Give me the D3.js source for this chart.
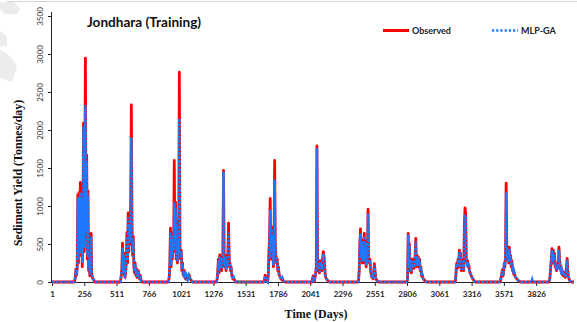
<!DOCTYPE html>
<html>
<head>
<meta charset="utf-8">
<script src="https://cdn.jsdelivr.net/npm/d3@7"></script>
<style>
  html, body { margin: 0; padding: 0; background: #fff; }
  svg { display: block; }
</style>
</head>
<body>
<svg id="chart" width="577" height="322"></svg>
<script>
// ---- data ----
const totalDays = 4125;
const xTickLabels = [1, 256, 511, 766, 1021, 1276, 1531, 1786, 2041, 2296, 2551, 2806, 3061, 3316, 3571, 3826];
const yTickValues = [0, 500, 1000, 1500, 2000, 2500, 3000, 3500];
const seriesNames = ["Observed", "MLP-GA"];

// first day of each monsoon block; values inside a block are every 5 days
const stepDays = 5;
const seasonStart = [175, 538, 917, 1296, 1675, 2054, 2418, 2805, 3184, 3539, 3790, 3926];

const observed = [
  [0, 10, 60, 170, 90, 180, 1150, 250, 1180, 700, 1310, 350, 1200, 200, 600, 2090, 400, 1500, 2945, 600, 1670, 300, 1200, 150, 300, 80, 120, 640, 90, 60, 40, 30, 15, 0],
  [0, 20, 80, 180, 510, 120, 380, 90, 60, 120, 300, 650, 250, 910, 400, 800, 500, 1100, 2330, 720, 350, 600, 200, 120, 250, 90, 180, 60, 100, 150, 70, 40, 90, 30, 10, 0],
  [0, 20, 60, 250, 710, 200, 650, 300, 550, 400, 1600, 500, 1050, 300, 800, 250, 600, 350, 2760, 460, 300, 420, 150, 250, 100, 80, 150, 60, 40, 90, 50, 30, 60, 100, 80, 40, 30, 20, 10, 0],
  [0, 10, 40, 150, 300, 120, 355, 200, 330, 150, 250, 400, 1470, 300, 200, 350, 150, 280, 200, 400, 775, 300, 250, 150, 200, 90, 60, 40, 60, 30, 20, 10, 0],
  [0, 30, 90, 60, 20, 10, 0, 100, 400, 600, 1100, 300, 725, 400, 650, 200, 450, 1600, 500, 350, 250, 300, 150, 200, 100, 80, 60, 40, 30, 50, 20, 15, 10, 5, 0],
  [0, 40, 80, 30, 10, 60, 120, 200, 1790, 300, 150, 250, 120, 280, 200, 250, 150, 300, 400, 350, 250, 100, 60, 40, 30, 20, 10, 5, 0],
  [0, 20, 150, 500, 700, 300, 560, 250, 480, 300, 640, 250, 550, 200, 400, 300, 960, 330, 250, 300, 150, 100, 60, 80, 40, 120, 240, 150, 60, 30, 20, 10, 5, 0],
  [0, 30, 640, 200, 500, 150, 280, 120, 300, 200, 250, 180, 290, 350, 575, 200, 350, 250, 330, 200, 300, 150, 200, 80, 100, 60, 40, 30, 20, 10, 5, 0],
  [0, 20, 150, 250, 180, 300, 200, 420, 250, 380, 150, 250, 200, 300, 150, 750, 975, 900, 300, 250, 280, 200, 220, 150, 120, 100, 80, 60, 50, 30, 20, 10, 5, 0],
  [0, 10, 60, 100, 160, 80, 120, 250, 200, 350, 1300, 460, 300, 400, 250, 460, 300, 350, 200, 280, 150, 180, 100, 120, 80, 60, 50, 40, 30, 20, 15, 10, 5, 0],
  [0, 0, 0],
  [0, 20, 80, 200, 300, 440, 250, 420, 300, 380, 200, 250, 150, 220, 180, 200, 460, 300, 200, 150, 180, 100, 120, 80, 130, 100, 60, 120, 200, 310, 150, 80, 40, 20, 10, 5, 0]
];

const mlpGA = [
  [0, 10, 70, 160, 100, 170, 1100, 300, 1120, 650, 1180, 380, 1100, 250, 650, 2050, 450, 1450, 2330, 650, 1600, 350, 1150, 180, 280, 100, 130, 600, 100, 70, 45, 30, 15, 0],
  [0, 20, 90, 170, 450, 140, 350, 100, 80, 130, 320, 600, 280, 850, 420, 760, 520, 1050, 1900, 700, 380, 560, 220, 140, 230, 100, 170, 70, 100, 140, 70, 40, 80, 30, 10, 0],
  [0, 20, 70, 230, 650, 220, 600, 320, 520, 420, 1050, 520, 980, 320, 760, 270, 580, 380, 2150, 480, 320, 400, 170, 230, 110, 90, 140, 70, 50, 80, 50, 30, 60, 90, 70, 40, 30, 20, 10, 0],
  [0, 10, 50, 140, 280, 140, 330, 210, 300, 170, 260, 380, 1450, 320, 210, 330, 160, 270, 210, 380, 650, 290, 240, 160, 190, 90, 60, 40, 60, 30, 20, 10, 0],
  [0, 30, 80, 60, 20, 10, 0, 110, 380, 580, 950, 320, 700, 420, 620, 220, 440, 1350, 480, 340, 260, 290, 160, 190, 100, 80, 60, 40, 30, 50, 20, 15, 10, 5, 0],
  [0, 40, 70, 30, 10, 60, 130, 210, 1760, 280, 160, 240, 130, 270, 210, 240, 160, 290, 370, 330, 240, 100, 60, 40, 30, 20, 10, 5, 0],
  [0, 20, 160, 480, 640, 320, 540, 270, 470, 320, 600, 270, 520, 220, 390, 310, 900, 320, 250, 290, 160, 100, 60, 80, 40, 120, 220, 140, 60, 30, 20, 10, 5, 0],
  [0, 30, 620, 210, 480, 170, 270, 130, 290, 210, 240, 190, 280, 340, 540, 210, 340, 250, 320, 210, 290, 150, 190, 80, 100, 60, 40, 30, 20, 10, 5, 0],
  [0, 20, 160, 240, 190, 290, 210, 400, 260, 370, 160, 240, 210, 290, 160, 700, 880, 860, 300, 250, 270, 200, 210, 150, 120, 100, 80, 60, 50, 30, 20, 10, 5, 0],
  [0, 10, 70, 100, 150, 90, 130, 260, 210, 340, 1180, 440, 310, 390, 260, 440, 300, 340, 210, 270, 150, 170, 100, 120, 80, 60, 50, 40, 30, 20, 15, 10, 5, 0],
  [0, 30, 0],
  [0, 20, 90, 190, 290, 420, 260, 400, 300, 360, 210, 240, 160, 210, 180, 200, 420, 290, 200, 150, 170, 100, 120, 80, 120, 100, 60, 110, 190, 290, 150, 80, 40, 20, 10, 5, 0]
];

// ---- build (day, value) points: zero outside the blocks ----
function toPoints(blocks) {
  const pts = [{ day: 1, value: 0 }];
  blocks.forEach((vals, s) => {
    vals.forEach((v, i) => pts.push({ day: seasonStart[s] + i * stepDays, value: v }));
  });
  pts.push({ day: totalDays, value: 0 });
  return pts;
}
const obsPoints = toPoints(observed);
const mlpPoints = toPoints(mlpGA);

// ---- layout ----
const svg = d3.select("#chart");
const plot = { left: 52, right: 574, top: 16, bottom: 282 };

const x = d3.scaleLinear().domain([1, totalDays]).range([plot.left, plot.right]);
const y = d3.scaleLinear().domain([0, 3500]).range([plot.bottom, plot.top]);

const sans = "Lato, 'Open Sans', 'DejaVu Sans', sans-serif";
const serif = "'Liberation Serif', 'Times New Roman', serif";

// faint decorative shapes at the top-left corner and the frame's top edge
svg.append("g").attr("fill", "#ececec")
  .selectAll("polygon")
  .data([
    "0,2 14,2 20,9 17,14 5,14 0,9",
    "0,31 7,36 7,46 0,47",
    "0,50 10,56 17,66 12,82 0,78"
  ])
  .join("polygon")
  .attr("points", d => d);
svg.append("line")
  .attr("x1", 7).attr("x2", 577).attr("y1", 1.5).attr("y2", 1.5)
  .attr("stroke", "#d4d4d4").attr("stroke-width", 1);

// ---- axes ----
const xAxis = d3.axisBottom(x).tickValues(xTickLabels).tickSize(4).tickFormat(d3.format("d"));
const gx = svg.append("g").attr("transform", `translate(0,${plot.bottom})`).call(xAxis);
gx.select(".domain").attr("d", `M${plot.left},0.5H${plot.right}`).attr("stroke", "#222").attr("stroke-width", 1);
gx.selectAll(".tick line").attr("stroke", "#222");
gx.selectAll(".tick text")
  .attr("y", 9).attr("dy", "0.71em")
  .style("font-family", sans).style("font-size", "8px").style("font-weight", "700").attr("fill", "#222");

const yAxis = d3.axisLeft(y).tickValues(yTickValues).tickSize(4).tickFormat(d3.format("d"));
const gy = svg.append("g").attr("transform", `translate(${plot.left},0)`).call(yAxis);
gy.select(".domain").attr("d", `M-0.5,${plot.bottom}V${plot.top - 4}`).attr("stroke", "#222").attr("stroke-width", 1);
gy.selectAll(".tick line").attr("stroke", "#222");
gy.selectAll(".tick text")
  .attr("transform", "rotate(-90)")
  .attr("x", 0).attr("y", -9).attr("dy", 0)
  .style("text-anchor", "middle")
  .style("font-family", sans).style("font-size", "8px").style("font-weight", "400").attr("fill", "#333");

// ---- series ----
const line = d3.line().x(d => x(d.day)).y(d => y(d.value));

svg.append("path")
  .datum(obsPoints)
  .attr("d", line)
  .attr("fill", "none")
  .attr("stroke", "#ff0000")
  .attr("stroke-width", 2.8)
  .attr("stroke-linejoin", "round");

svg.append("path")
  .datum(mlpPoints)
  .attr("d", line)
  .attr("fill", "none")
  .attr("stroke", "#1e78ff")
  .attr("stroke-width", 2.6)
  .attr("stroke-dasharray", "2.5,1.6");

// ---- titles ----
svg.append("text")
  .attr("x", 87).attr("y", 27)
  .style("font-family", sans).style("font-size", "13.6px").style("font-weight", "700")
  .attr("fill", "#111")
  .text("Jondhara (Training)");

svg.append("text")
  .attr("x", 316).attr("y", 318)
  .attr("text-anchor", "middle")
  .style("font-family", serif).style("font-size", "12px").style("font-weight", "700")
  .attr("fill", "#111")
  .text("Time (Days)");

svg.append("text")
  .attr("transform", "translate(22,173) rotate(-90)")
  .attr("text-anchor", "middle")
  .style("font-family", serif).style("font-size", "12px").style("font-weight", "700")
  .attr("fill", "#111")
  .text("Sediment Yield (Tonnes/day)");

// ---- legend ----
const legend = svg.append("g");
const legendItems = [
  { name: seriesNames[0], x: 383, stroke: "#ff0000", dash: null, width: 3 },
  { name: seriesNames[1], x: 492, stroke: "#1e78ff", dash: "2.2,2", width: 2.4 }
];
legendItems.forEach(it => {
  legend.append("line")
    .attr("x1", it.x).attr("x2", it.x + 26).attr("y1", 30.5).attr("y2", 30.5)
    .attr("stroke", it.stroke).attr("stroke-width", it.width)
    .attr("stroke-dasharray", it.dash);
  legend.append("text")
    .attr("x", it.x + 29).attr("y", 34)
    .style("font-family", sans).style("font-size", "9px").style("font-weight", "700")
    .attr("fill", "#222")
    .text(it.name);
});
</script>
</body>
</html>
